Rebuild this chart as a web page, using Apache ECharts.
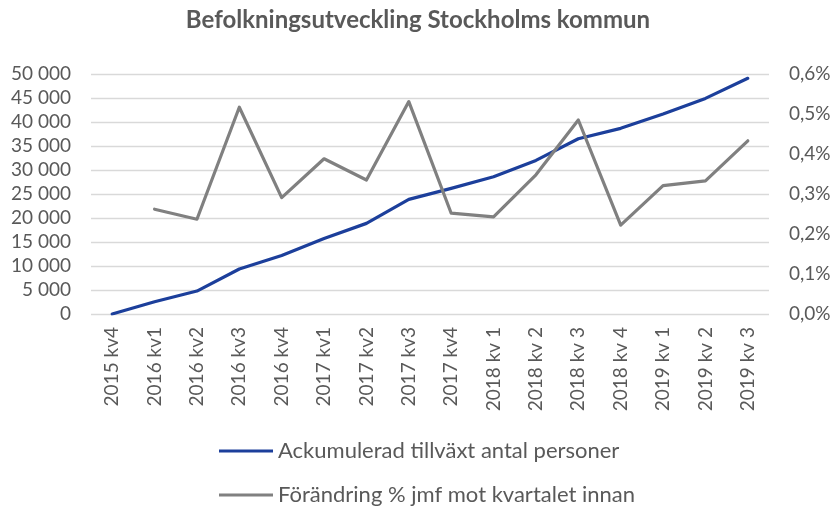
<!DOCTYPE html>
<html>
<head>
<meta charset="utf-8">
<script src="https://cdn.jsdelivr.net/npm/echarts@6/dist/echarts.min.js"></script>
<style>
  html, body { margin: 0; padding: 0; background: #fff; }
  #chart { width: 836px; height: 507px; }
</style>
</head>
<body>
<div id="chart"></div>
<script>
// kvartal
var categories = ['2015 kv4', '2016 kv1', '2016 kv2', '2016 kv3', '2016 kv4', '2017 kv1', '2017 kv2', '2017 kv3',
    '2017 kv4', '2018 kv 1', '2018 kv 2', '2018 kv 3', '2018 kv 4', '2019 kv 1', '2019 kv 2', '2019 kv 3'];
// ackumulerad tillväxt (personer)
var growthData = [0, 2550, 4780, 9380, 12200, 15750, 18880, 23880, 26180, 28600, 32000, 36500, 38680, 41650, 44920, 49100];
// förändring i procent mot kvartalet innan
var changeData = [null, 0.262, 0.237, 0.517, 0.291, 0.388, 0.335, 0.531, 0.252, 0.243, 0.348, 0.485, 0.222, 0.321, 0.333, 0.433];
var seriesNames = ['Ackumulerad tillväxt antal personer', 'Förändring % jmf mot kvartalet innan'];
var colorLine = ['#1c3f9b', '#808080'];

var textColor = '#595959';
var fontFam = 'Lato, "Open Sans", sans-serif';

function legendItem(name, top) {
    return {
        left: 214,
        top: top,
        itemWidth: 54,
        itemHeight: 3,
        itemGap: 0,
        icon: 'rect',
        textStyle: { color: textColor, fontSize: 22, fontFamily: fontFam },
        data: [name]
    };
}

var chart = echarts.init(document.getElementById('chart'));
var option = {
    backgroundColor: '#fff',
    animation: false,
    title: {
        text: 'Befolkningsutveckling Stockholms kommun',
        left: 'center',
        top: 3,
        textStyle: { color: textColor, fontSize: 24, fontWeight: 'bold', fontFamily: fontFam }
    },
    legend: [legendItem(seriesNames[0], 435), legendItem(seriesNames[1], 479)],
    grid: { left: 91, right: 67, top: 74, bottom: 193 },
    xAxis: {
        type: 'category',
        data: categories,
        boundaryGap: true,
        axisLine: { show: false },
        axisTick: { show: false },
        axisLabel: { rotate: 90, interval: 0, margin: 13, color: textColor, fontSize: 19, fontFamily: fontFam }
    },
    yAxis: [
        {
            type: 'value',
            min: 0,
            max: 50000,
            interval: 5000,
            axisLine: { show: false },
            axisTick: { show: false },
            splitLine: { lineStyle: { color: '#d9d9d9', width: 1.3 } },
            axisLabel: {
                margin: 20, color: textColor, fontSize: 19, fontFamily: fontFam,
                formatter: function (v) { return String(v).replace(/\B(?=(\d{3})+(?!\d))/g, ' '); }
            }
        },
        {
            type: 'value',
            min: 0,
            max: 0.6,
            interval: 0.1,
            axisLine: { show: false },
            axisTick: { show: false },
            splitLine: { show: false },
            axisLabel: {
                margin: 20, color: textColor, fontSize: 19, fontFamily: fontFam,
                formatter: function (v) { return v.toFixed(1).replace('.', ',') + '%'; }
            }
        }
    ],
    series: [
        {
            name: seriesNames[0],
            type: 'line',
            yAxisIndex: 0,
            data: growthData,
            symbol: 'none',
            lineStyle: { color: colorLine[0], width: 3.2, cap: 'round', join: 'round' },
            itemStyle: { color: colorLine[0] }
        },
        {
            name: seriesNames[1],
            type: 'line',
            yAxisIndex: 1,
            data: changeData,
            symbol: 'none',
            lineStyle: { color: colorLine[1], width: 3.2, cap: 'round', join: 'round' },
            itemStyle: { color: colorLine[1] }
        }
    ]
};
chart.setOption(option);
window.onresize = chart.resize;
</script>
</body>
</html>
